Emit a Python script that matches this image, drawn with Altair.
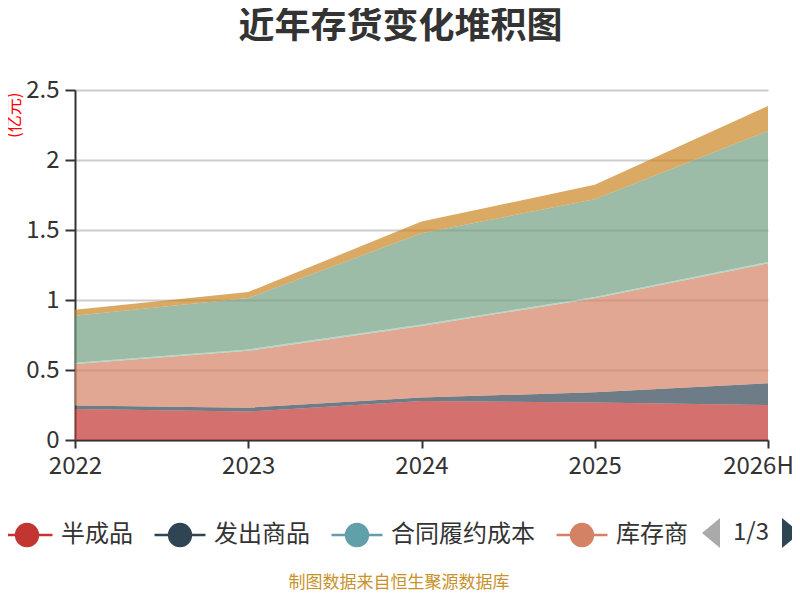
import altair as alt
import pandas as pd

# ---- data ----
years = ["2022", "2023", "2024", "2025", "2026H"]
series_names = ["半成品", "发出商品", "合同履约成本", "库存商品", "委托加工物资", "原材料", "在产品"]
series_colors = ["#c23531", "#2f4554", "#61a0a8", "#d48265", "#91c7ae", "#749f83", "#ca8622"]

v_banchengpin = [0.222, 0.203, 0.279, 0.267, 0.250]
v_fachu = [0.024, 0.028, 0.024, 0.074, 0.155]
v_hetong = [0.0, 0.0, 0.0, 0.0, 0.0]
v_kucun = [0.296, 0.406, 0.512, 0.671, 0.857]
v_weituo = [0.01, 0.01, 0.01, 0.01, 0.01]
v_yuancailiao = [0.336, 0.367, 0.652, 0.697, 0.935]
v_zaichanpin = [0.043, 0.043, 0.083, 0.105, 0.179]

all_values = [v_banchengpin, v_fachu, v_hetong, v_kucun, v_weituo, v_yuancailiao, v_zaichanpin]

rows = []
for idx, (name, vals) in enumerate(zip(series_names, all_values)):
    for yr, v in zip(years, vals):
        rows.append({"series": name, "idx": idx, "year": yr, "value": v})
df = pd.DataFrame(rows)

y_ticks = [0, 0.5, 1, 1.5, 2, 2.5]
legend_values = series_names[:4]

FONT = "Noto Sans CJK SC"
TXT = "#333333"

sym_path = "M-1,0L1,0M-0.43,0A0.43,0.43,0,1,1,0.43,0A0.43,0.43,0,1,1,-0.43,0Z"

x_enc = alt.X(
    "year:O",
    sort=years,
    scale=alt.Scale(type="point", padding=0),
    axis=alt.Axis(
        title=None, labelAngle=0, labelFontSize=24, labelColor=TXT, labelFont=FONT,
        domainColor=TXT, domainWidth=2, tickColor=TXT, tickWidth=2, tickSize=8,
        labelPadding=6, grid=False,
        labelOffset={"condition": {"test": "datum.value == '2026H'", "value": -10}, "value": 0},
    ),
)

leg = alt.Legend(
    orient="none", legendX=-75, legendY=418, direction="horizontal",
    values=legend_values, title=None,
    symbolType=sym_path, symbolSize=2601, symbolStrokeWidth=2.5, symbolOpacity=1,
    labelFontSize=24, labelFont=FONT, labelColor=TXT, labelOffset=7,
    columnPadding=16, padding=0,
    labelExpr="datum.label == '库存商品' ? '库存商' : datum.label",
)

color_scale = alt.Scale(domain=series_names, range=series_colors)

base = alt.Chart(df).transform_stack(
    stack="value", groupby=["year"], as_=["y0", "y1"],
    sort=[alt.SortField("idx", order="ascending")],
)

area = base.mark_area(fillOpacity=0.7, strokeWidth=0).encode(
    x=x_enc,
    y=alt.Y(
        "y1:Q",
        scale=alt.Scale(domain=[0, 2.5], nice=False),
        axis=alt.Axis(
            values=y_ticks, format="~g", title="(亿元)", titleColor="#ff0000",
            titleFontSize=17, titleFont=FONT, titleFontWeight="normal", titleAngle=270,
            titleAlign="right", titleBaseline="middle", titleX=-61, titleY=2,
            labelFontSize=24, labelColor=TXT, labelFont=FONT, labelPadding=6,
            domainColor=TXT, domainWidth=2, tickColor=TXT, tickWidth=2, tickSize=10,
            gridColor="#cccccc", gridWidth=2,
        ),
    ),
    y2="y0:Q",
    color=alt.Color("series:N", scale=color_scale, legend=leg),
)

# invisible edge lines: only give the legend its line strokes
line = base.mark_line(strokeWidth=1, strokeOpacity=0).encode(
    x=x_enc,
    y="y1:Q",
    color=alt.Color("series:N", scale=color_scale, legend=leg),
)

pager_df = pd.DataFrame({"label": ["1/3"]})
pager_text = alt.Chart(pager_df).mark_text(
    fontSize=24, font=FONT, color=TXT, align="center", baseline="middle"
).encode(text="label:N", x=alt.value(676), y=alt.value(443))

tri_left = alt.Chart(pager_df).mark_point(
    shape="M0.6,-1L-0.6,0L0.6,1Z", size=900, filled=True, color="#aaaaaa", opacity=1
).encode(x=alt.value(636), y=alt.value(443))

tri_right = alt.Chart(pager_df).mark_point(
    shape="M-0.6,-1L0.6,0L-0.6,1Z", size=900, filled=True, color="#2f4554", opacity=1
).encode(x=alt.value(716), y=alt.value(443))

footer_df = pd.DataFrame({"t": ["制图数据来自恒生聚源数据库"]})
footer = alt.Chart(footer_df).mark_text(
    fontSize=17, font=FONT, color="#c8922a", align="center", baseline="middle"
).encode(text="t:N", x=alt.value(324), y=alt.value(493))

chart = alt.layer(area, line, pager_text, tri_left, tri_right, footer).properties(
    width=693,
    height=350,
    padding={"left": 67, "top": 82, "right": 24, "bottom": 152},
    autosize=alt.AutoSizeParams(type="none"),
    title=alt.TitleParams(
        "近年存货变化堆积图", fontSize=36, fontWeight="bold", color=TXT, font=FONT,
        anchor="middle", dx=-21, offset=32,
    ),
).configure_view(stroke=None)

chart.save("out.html", embed_options={"renderer": "svg", "actions": False})
